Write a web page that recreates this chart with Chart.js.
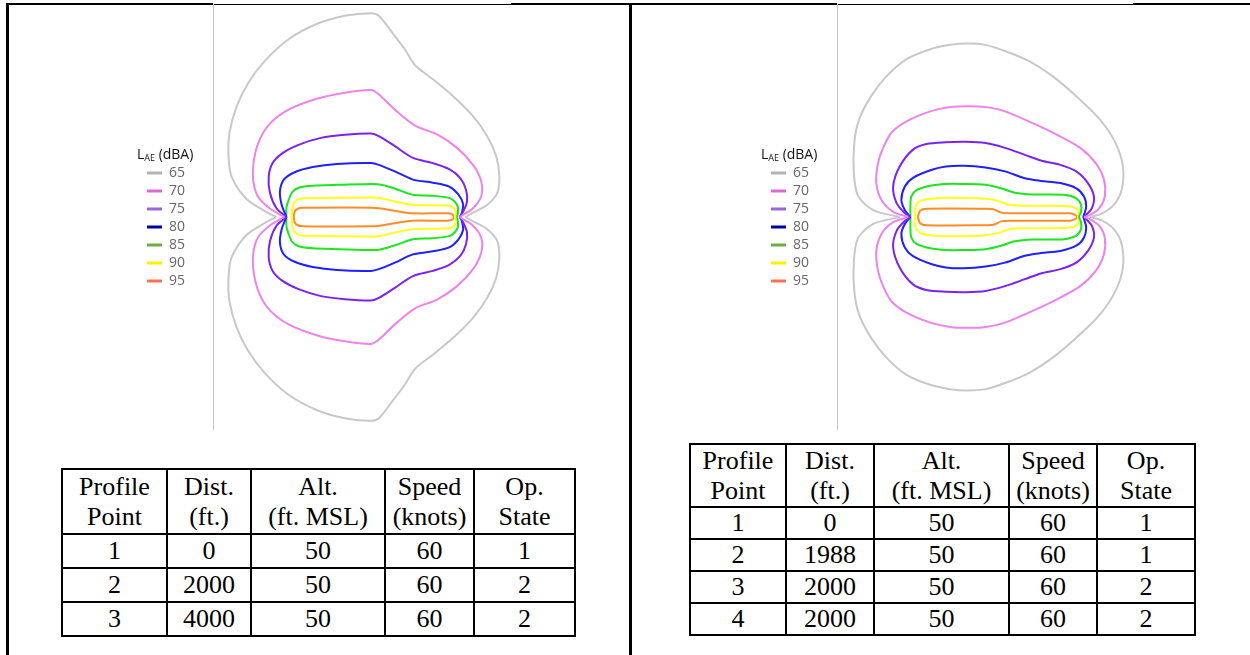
<!DOCTYPE html>
<html lang="en">
<head>
  <meta charset="UTF-8" />
  <title>LAE contours and flight profiles</title>
  <script src="https://cdn.jsdelivr.net/npm/chart.js@4.4.0/dist/chart.umd.min.js"></script>
  <style>
    body { margin: 0; background: #fff; width: 1250px; height: 655px; position: relative; overflow: hidden; }
    .rule { position: absolute; background: #000; }
    .plot { position: absolute; top: 4px; }
    table.profile { position: absolute; border-collapse: collapse; table-layout: fixed;
      font-family: "Liberation Serif", "Times New Roman", serif; font-size: 26px; color: #000; }
    table.profile td { border: 2px solid #000; text-align: center; vertical-align: middle; padding: 0; line-height: 30px; }
  </style>
</head>
<body>
  <!-- outer frame -->
  <div class="rule" style="left:6px;top:3px;width:3px;height:652px"></div>
  <div class="rule" style="left:629px;top:3px;width:3px;height:652px"></div>
  <div class="rule" style="left:6px;top:3px;width:207px;height:2px"></div>
  <div class="rule" style="left:213px;top:4px;width:298px;height:1px"></div>
  <div class="rule" style="left:511px;top:3px;width:326px;height:2px"></div>
  <div class="rule" style="left:837px;top:4px;width:296px;height:1px"></div>
  <div class="rule" style="left:1133px;top:3px;width:117px;height:2px"></div>

  <canvas id="chartA" class="plot" width="378" height="426" style="left:133px"></canvas>
  <canvas id="chartB" class="plot" width="378" height="426" style="left:757px"></canvas>

  <table class="profile" id="tableA" style="left:61px;top:468px;width:515px">
    <colgroup><col style="width:105px"><col style="width:84px"><col style="width:134px"><col style="width:89px"><col style="width:101px"></colgroup>
    <tbody></tbody>
  </table>
  <table class="profile" id="tableB" style="left:689px;top:443px;width:506px">
    <colgroup><col style="width:96px"><col style="width:88px"><col style="width:135px"><col style="width:88px"><col style="width:98px"></colgroup>
    <tbody></tbody>
  </table>

  <script>
    // contour levels, LAE dBA
    const levels = ['65', '70', '75', '80', '85', '90', '95'];
    const lineColors = ['#c8c8c8', '#ee82ee', '#7b22f2', '#1f1fff', '#1de61d', '#ffff1a', '#ff8c24'];
    const legendColors = ['#b3b3b3', '#dd66dd', '#9966dd', '#0000b0', '#70ad47', '#ffee00', '#ff7050'];

    // left case: contour loops, [x ft along track, y ft sideline]
    const a65 = [[-235,0],[-470,120],[-930,420],[-1270,930],[-1340,1390],[-1320,1930],[-1150,2550],[-880,3090],[-500,3590],[50,4090],[700,4440],[1350,4630],[1960,4690],[2140,4630],[2420,4280],[2740,3860],[2980,3490],[3390,3170],[3860,2780],[4320,2320],[4650,1860],[4860,1390],[4930,930],[4880,550],[4650,280],[4320,100],[4140,0],
      [4320,-100],[4650,-280],[4880,-550],[4930,-930],[4860,-1390],[4650,-1860],[4320,-2320],[3860,-2780],[3390,-3170],[2980,-3490],[2740,-3860],[2420,-4280],[2140,-4630],[1960,-4690],[1350,-4630],[700,-4440],[50,-4090],[-500,-3590],[-880,-3090],[-1150,-2550],[-1320,-1930],[-1340,-1390],[-1270,-930],[-930,-420],[-470,-120],[-235,0]];
    const a70 = [[-50,0],[-390,200],[-660,470],[-770,860],[-750,1320],[-620,1780],[-370,2160],[50,2470],[700,2720],[1350,2860],[1960,2920],[2140,2820],[2510,2470],[2980,2100],[3490,1900],[3950,1590],[4320,1200],[4510,820],[4510,470],[4320,200],[4090,50],[4020,0],
      [4090,-50],[4320,-200],[4510,-470],[4510,-820],[4320,-1200],[3950,-1590],[3490,-1900],[2980,-2100],[2510,-2470],[2140,-2820],[1960,-2920],[1350,-2860],[700,-2720],[50,-2470],[-370,-2160],[-620,-1780],[-750,-1320],[-770,-860],[-660,-470],[-390,-200],[-50,0]];
    const a75 = [[0,0],[-230,200],[-380,550],[-410,930],[-320,1240],[-90,1470],[280,1660],[800,1820],[1350,1890],[1960,1920],[2140,1860],[2510,1630],[2930,1360],[3390,1240],[3770,1100],[4030,890],[4160,620],[4180,350],[4090,120],[4020,0],
      [4090,-120],[4180,-350],[4160,-620],[4030,-890],[3770,-1100],[3390,-1240],[2930,-1360],[2510,-1630],[2140,-1860],[1960,-1920],[1350,-1890],[800,-1820],[280,-1660],[-90,-1470],[-320,-1240],[-410,-930],[-380,-550],[-230,-200],[0,0]];
    const a80 = [[0,0],[-110,280],[-150,590],[-60,860],[190,1030],[610,1150],[1170,1220],[1960,1240],[2140,1200],[2510,1050],[2930,860],[3390,790],[3770,700],[3980,520],[4090,300],[4060,90],[4020,0],
      [4060,-90],[4090,-300],[3980,-520],[3770,-700],[3390,-790],[2930,-860],[2510,-1050],[2140,-1200],[1960,-1240],[1170,-1220],[610,-1150],[190,-1030],[-60,-860],[-150,-590],[-110,-280],[0,0]];
    const a85 = [[0,0],[0,210],[50,390],[140,580],[300,680],[600,720],[1220,740],[2010,760],[2200,740],[2520,650],[2930,510],[3370,490],[3770,440],[3900,350],[3970,230],[3970,90],[3950,0],
      [3970,-90],[3970,-230],[3900,-350],[3770,-440],[3370,-490],[2930,-510],[2520,-650],[2200,-740],[2010,-760],[1220,-740],[600,-720],[300,-680],[140,-580],[50,-390],[0,-210],[0,0]];
    const a90 = [[120,0],[140,230],[190,350],[300,420],[460,430],[1220,440],[2030,450],[2200,430],[2540,350],[2930,280],[3770,260],[3880,200],[3930,90],[3900,0],
      [3930,-90],[3880,-200],[3770,-260],[2930,-280],[2540,-350],[2200,-430],[2030,-450],[1220,-440],[460,-430],[300,-420],[190,-350],[140,-230],[120,0]];
    const a95 = [[170,0],[190,120],[260,190],[380,210],[1990,215],[2150,200],[2530,140],[2920,85],[3730,85],[3840,60],[3880,0],
      [3840,-60],[3730,-85],[2920,-85],[2530,-140],[2150,-200],[1990,-215],[380,-210],[260,-190],[190,-120],[170,0]];

    // right case
    const b65 = [[-250,0],[-860,160],[-1210,480],[-1310,1010],[-1300,1700],[-1190,2240],[-910,2780],[-550,3240],[-90,3630],[460,3860],[920,3960],[1330,3990],[1740,3960],[2190,3820],[2740,3590],[3290,3240],[3840,2780],[4390,2240],[4750,1700],[4920,1160],[4890,620],[4710,280],[4430,80],[4160,0],
      [4430,-80],[4710,-280],[4890,-620],[4920,-1160],[4750,-1700],[4390,-2240],[3840,-2780],[3290,-3240],[2740,-3590],[2190,-3820],[1740,-3960],[1330,-3990],[920,-3960],[460,-3860],[-90,-3630],[-550,-3240],[-910,-2780],[-1190,-2240],[-1300,-1700],[-1310,-1010],[-1210,-480],[-860,-160],[-250,0]];
    const b70 = [[-50,0],[-400,120],[-670,390],[-790,780],[-750,1240],[-620,1620],[-430,1950],[-90,2200],[460,2430],[920,2530],[1330,2550],[1740,2530],[2190,2430],[2830,2160],[3380,1900],[3930,1590],[4290,1240],[4480,860],[4500,470],[4370,200],[4160,50],[4020,0],
      [4160,-50],[4370,-200],[4500,-470],[4480,-860],[4290,-1240],[3930,-1590],[3380,-1900],[2830,-2160],[2190,-2430],[1740,-2530],[1330,-2550],[920,-2530],[460,-2430],[-90,-2200],[-430,-1950],[-620,-1620],[-750,-1240],[-790,-780],[-670,-390],[-400,-120],[-50,0]];
    const b75 = [[0,0],[-130,90],[-320,320],[-400,700],[-250,1160],[60,1550],[370,1680],[820,1720],[1280,1730],[1740,1700],[2190,1590],[2650,1430],[3020,1300],[3470,1200],[3840,1050],[4110,780],[4250,470],[4200,200],[4070,50],[4020,0],
      [4070,-50],[4200,-200],[4250,-470],[4110,-780],[3840,-1050],[3470,-1200],[3020,-1300],[2650,-1430],[2190,-1590],[1740,-1700],[1280,-1730],[820,-1720],[370,-1680],[60,-1550],[-250,-1160],[-400,-700],[-320,-320],[-130,-90],[0,0]];
    const b80 = [[0,0],[-130,160],[-210,390],[-130,700],[60,900],[480,1080],[820,1160],[1230,1180],[1740,1140],[2190,1050],[2650,890],[3020,830],[3470,780],[3840,660],[4020,470],[4070,240],[4020,50],[4000,0],
      [4020,-50],[4070,-240],[4020,-470],[3840,-660],[3470,-780],[3020,-830],[2650,-890],[2190,-1050],[1740,-1140],[1230,-1180],[820,-1160],[480,-1080],[60,-900],[-130,-700],[-210,-390],[-130,-160],[0,0]];
    const b85 = [[0,0],[0,240],[20,470],[140,620],[460,720],[820,760],[1190,760],[1740,740],[2100,660],[2420,560],[2830,520],[3560,510],[3840,430],[3950,280],[3950,120],[3900,0],
      [3950,-120],[3950,-280],[3840,-430],[3560,-510],[2830,-520],[2420,-560],[2100,-660],[1740,-740],[1190,-760],[820,-760],[460,-720],[140,-620],[20,-470],[0,-240],[0,0]];
    const b90 = [[110,0],[120,240],[230,370],[460,420],[820,440],[1740,420],[2060,360],[2280,280],[2650,260],[3650,250],[3840,200],[3900,90],[3880,0],
      [3900,-90],[3840,-200],[3650,-250],[2650,-260],[2280,-280],[2060,-360],[1740,-420],[820,-440],[460,-420],[230,-370],[120,-240],[110,0]];
    const b95 = [[170,0],[230,150],[370,190],[1740,190],[1920,180],[2100,100],[2280,85],[3700,85],[3820,45],[3870,0],
      [3820,-45],[3700,-85],[2280,-85],[2100,-100],[1920,-180],[1740,-190],[370,-190],[230,-150],[170,0]];

    // flight profile tables
    const profileHeader = ['Profile<br>Point', 'Dist.<br>(ft.)', 'Alt.<br>(ft. MSL)', 'Speed<br>(knots)', 'Op.<br>State'];
    const profileA = [[1, 0, 50, 60, 1], [2, 2000, 50, 60, 2], [3, 4000, 50, 60, 2]];
    const profileB = [[1, 0, 50, 60, 1], [2, 1988, 50, 60, 1], [3, 2000, 50, 60, 2], [4, 2000, 50, 60, 2]];

    const PAD_LEFT = 10;    // room for the legend title
    const AXIS_OFFSET = 80; // canvas x of the vertical axis line

    const legendTitle = {
      id: 'legendTitle',
      afterDraw(chart) {
        const box = chart.legend.legendHitBoxes[0];
        if (!box) return;
        const ctx = chart.ctx;
        const x = box.left - 10;
        const y = box.top + box.height / 2 - 18;
        ctx.save();
        ctx.fillStyle = '#111';
        ctx.textBaseline = 'middle';
        ctx.font = '14px "Open Sans"';
        ctx.fillText('L', x, y);
        let w = ctx.measureText('L').width;
        ctx.font = '9px "Open Sans"';
        ctx.fillText('AE', x + w, y + 3);
        w += ctx.measureText('AE').width;
        ctx.font = '14px "Open Sans"';
        ctx.fillText(' (dBA)', x + w, y);
        ctx.restore();
      }
    };

    function makeChart(id, loops) {
      const datasets = [];
      loops.forEach((loop, i) => {
        // split each closed contour at its downstream cusp so both ends stay sharp
        let k = loop.findIndex((p, j) => j > 0 && j < loop.length - 1 && p[1] === 0);
        const pts = loop.map(p => ({ x: p[0], y: p[1] }));
        [pts.slice(0, k + 1), pts.slice(k)].forEach((half, h) => {
          datasets.push({
            label: levels[i] + (h ? ' lower' : ''),
            data: half,
            showLine: true,
            borderColor: lineColors[i],
            borderWidth: 2,
            pointRadius: 0,
            tension: 0.3,
            fill: false
          });
        });
      });

      return new Chart(document.getElementById(id), {
        type: 'scatter',
        data: { datasets },
        options: {
          responsive: false,
          animation: false,
          layout: { padding: { left: PAD_LEFT, top: 0, right: 0, bottom: 0 } },
          scales: {
            x: { type: 'linear', min: -1700, max: 5200, display: false },
            y: {
              type: 'linear', min: -4900, max: 4900,
              grid: { display: false, drawTicks: false },
              ticks: { display: false },
              border: { display: true, color: '#c4c4c4', width: 1 },
              afterFit: s => { s.width = Math.max(0, AXIS_OFFSET - PAD_LEFT - s.chart.legend.width); }
            }
          },
          plugins: {
            tooltip: { enabled: false },
            legend: {
              position: 'left',
              align: 'center',
              title: { display: true, text: '', font: { size: 14, lineHeight: '20px' }, padding: 0 },
              labels: {
                boxWidth: 15,
                boxHeight: 3,
                padding: 4,
                color: '#111',
                font: { family: 'Open Sans', size: 14 },
                generateLabels: () => levels.map((lv, i) => ({
                  text: lv, fillStyle: legendColors[i], strokeStyle: legendColors[i],
                  lineWidth: 0, hidden: false, datasetIndex: i * 2
                }))
              }
            }
          }
        },
        plugins: [legendTitle]
      });
    }

    function fillTable(id, rows) {
      const body = document.querySelector('#' + id + ' tbody');
      let html = '<tr style="height:' + (id === 'tableA' ? 65 : 63) + 'px">' +
        profileHeader.map(h => '<td>' + h + '</td>').join('') + '</tr>';
      rows.forEach(r => {
        html += '<tr style="height:' + (id === 'tableA' ? 34 : 32) + 'px">' + r.map(v => '<td>' + v + '</td>').join('') + '</tr>';
      });
      body.innerHTML = html;
    }

    makeChart('chartA', [a65, a70, a75, a80, a85, a90, a95]);
    makeChart('chartB', [b65, b70, b75, b80, b85, b90, b95]);
    fillTable('tableA', profileA);
    fillTable('tableB', profileB);
  </script>
</body>
</html>
